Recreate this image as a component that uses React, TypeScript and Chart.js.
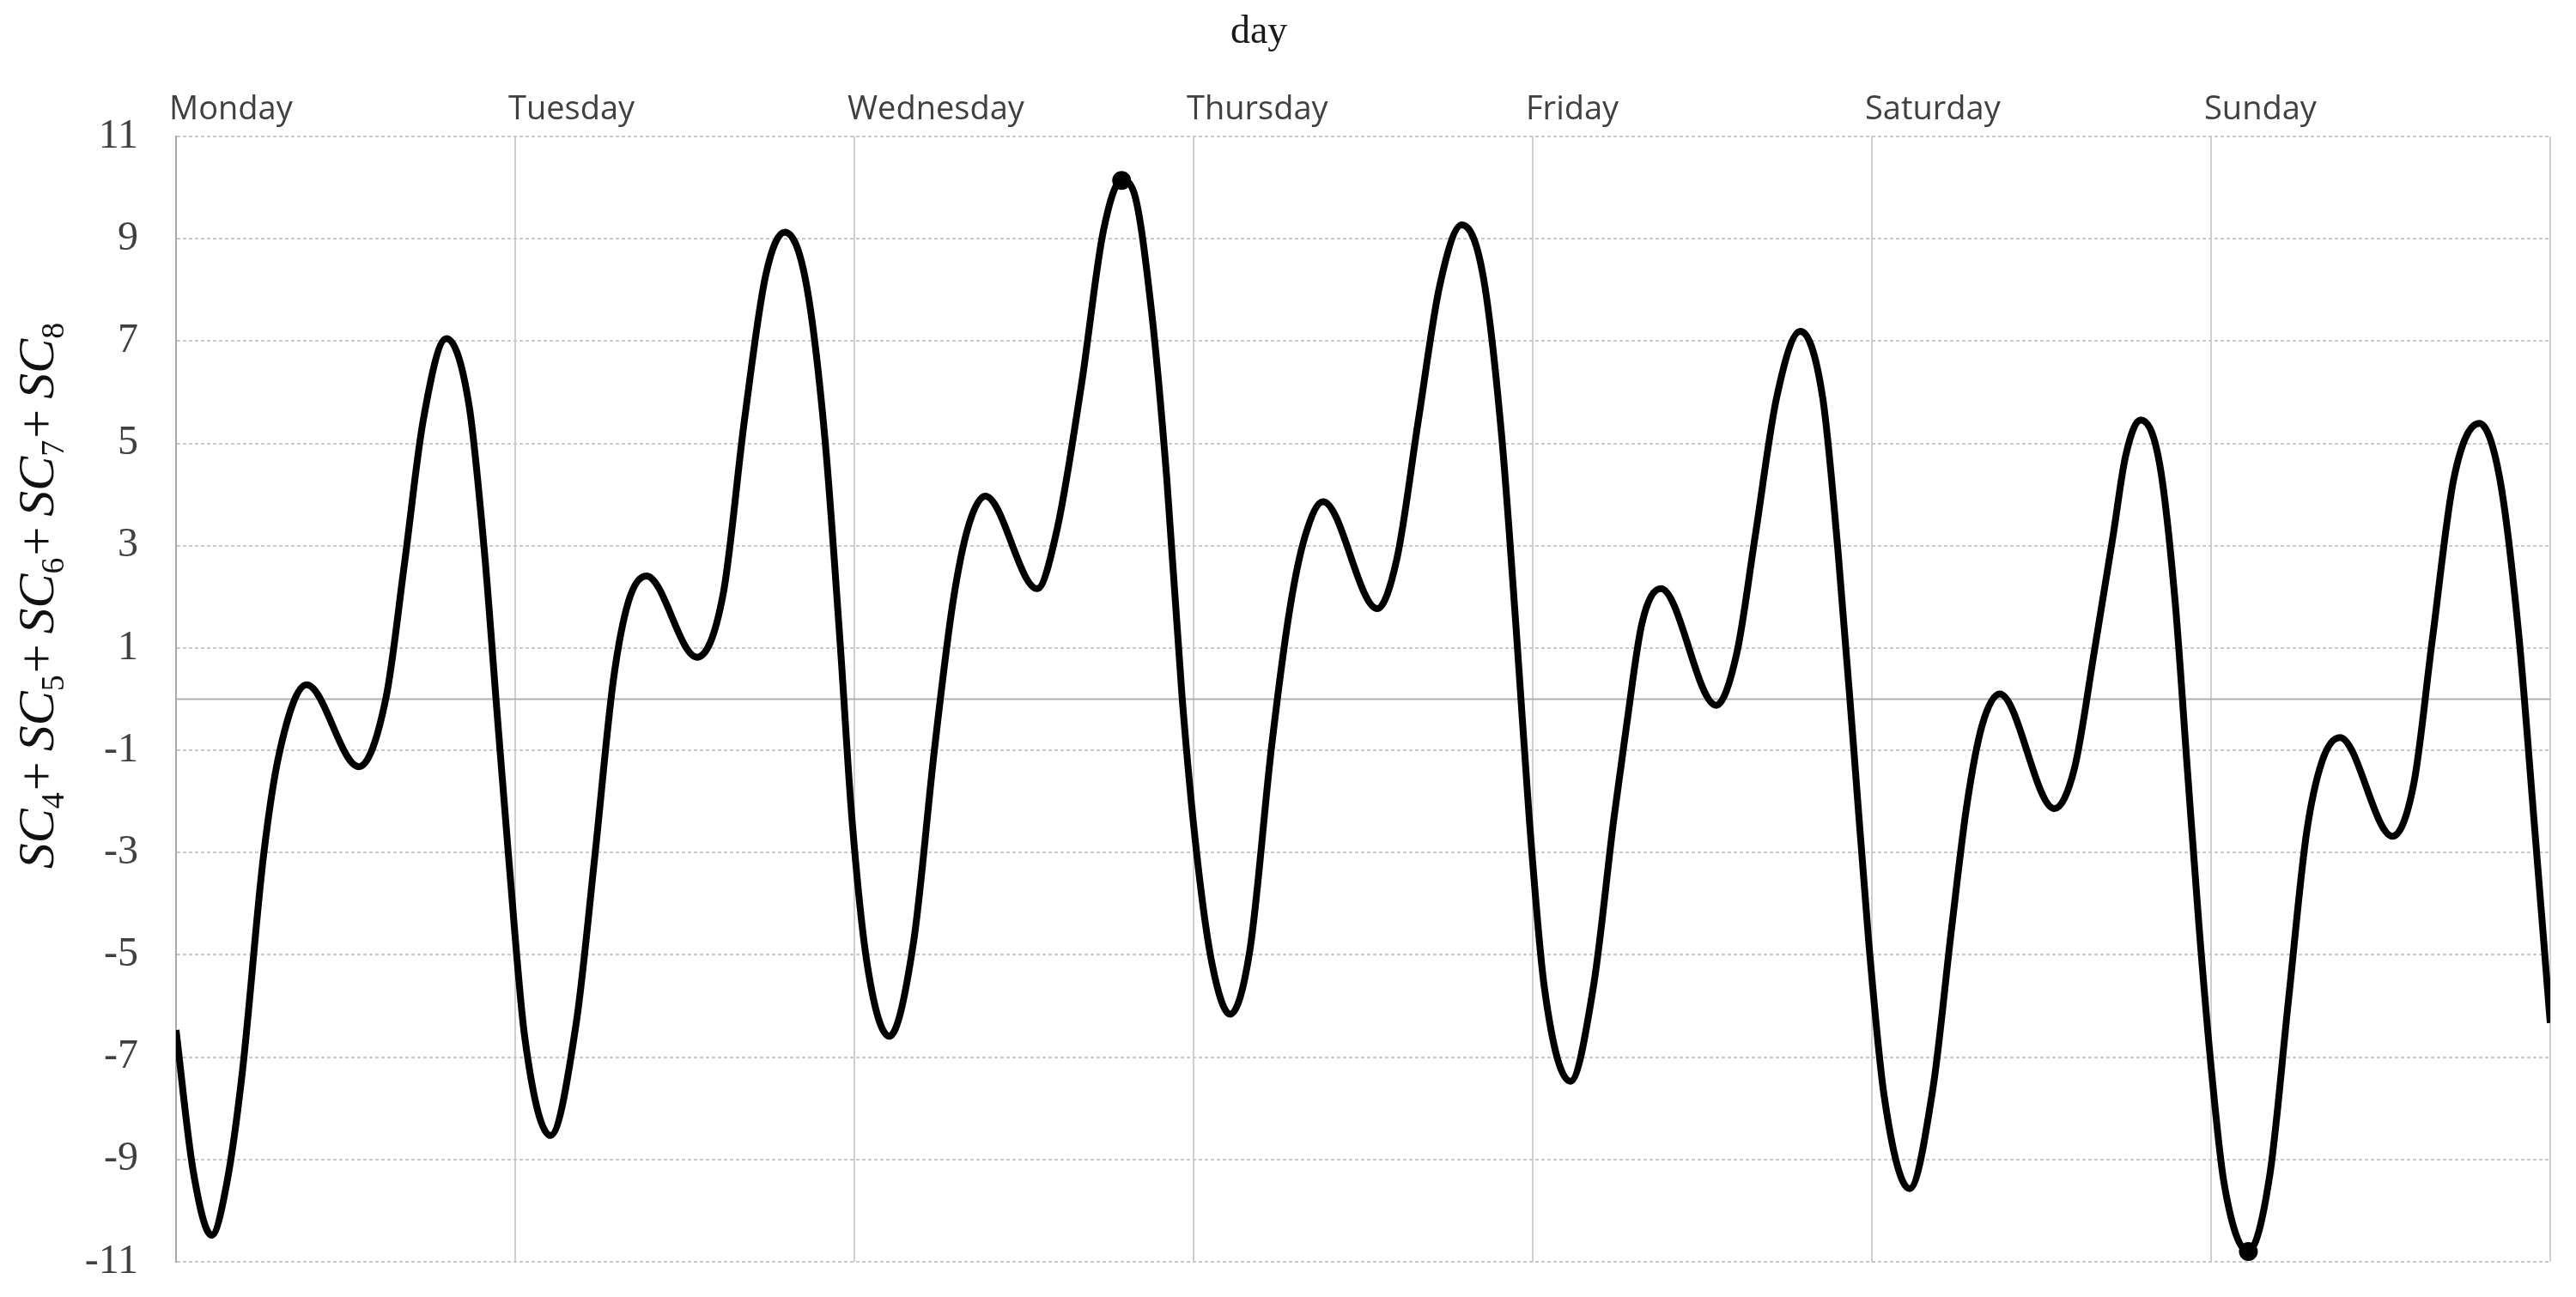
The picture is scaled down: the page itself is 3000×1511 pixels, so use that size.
import React, { useEffect, useRef } from "react";
import { Chart, registerables } from "chart.js";

Chart.register(...registerables);

// ---- data ----
const dayLabels = ["Monday", "Tuesday", "Wednesday", "Thursday", "Friday", "Saturday", "Sunday"];

const dayPositions = [
  0.0, 0.05, 0.105, 0.15, 0.195, 0.258, 0.304, 0.385, 0.539, 0.62, 0.673, 0.729, 0.797, 0.864, 0.909, 0.946, 0.982,
  1.028, 1.104, 1.18, 1.235, 1.289, 1.334, 1.387, 1.536, 1.613, 1.676, 1.739, 1.795, 1.857, 1.912, 1.957, 1.993,
  2.038, 2.103, 2.174, 2.237, 2.291, 2.337, 2.386, 2.539, 2.598, 2.67, 2.734, 2.788, 2.823, 2.876, 2.921, 2.966,
  3.01, 3.055, 3.108, 3.166, 3.23, 3.284, 3.329, 3.382, 3.542, 3.6, 3.663, 3.726, 3.791, 3.853, 3.908, 3.953, 3.99,
  4.034, 4.111, 4.179, 4.24, 4.277, 4.322, 4.378, 4.541, 4.602, 4.656, 4.719, 4.789, 4.855, 4.9, 4.946, 4.991,
  5.036, 5.111, 5.18, 5.235, 5.28, 5.325, 5.377, 5.538, 5.597, 5.655, 5.711, 5.748, 5.792, 5.848, 5.894, 5.93, 5.965,
  6.002, 6.038, 6.11, 6.173, 6.228, 6.281, 6.327, 6.38, 6.535, 6.598, 6.653, 6.716, 6.791, 6.851, 6.906, 6.952, 7.0,
];

const seriesValues = [
  -6.47, -9.2, -10.48, -9.45, -7.32, -3.06, -1.07, 0.28, -1.32, 0.06, 2.62, 5.46, 7.05, 5.74, 2.9, -0.22, -3.2,
  -6.6, -8.53, -6.33, -3.06, 0.35, 1.91, 2.41, 0.82, 2.05, 5.46, 8.3, 9.13, 8.16, 5.18, 1.2, -2.35,
  -5.19, -6.59, -4.77, -0.93, 1.91, 3.4, 3.97, 2.16, 3.33, 6.17, 9.15, 10.14, 9.93, 7.59, 4.32, 0.06,
  -3.06, -5.19, -6.16, -4.91, -0.93, 1.77, 3.19, 3.86, 1.77, 2.76, 5.46, 8.09, 9.27, 8.3, 5.18, 1.2, -2.35,
  -5.62, -7.47, -5.62, -2.3, -0.5, 1.48, 2.16, -0.12, 0.91, 3.19, 5.89, 7.19, 5.89, 2.9, -0.93, -4.77,
  -7.75, -9.57, -7.61, -4.48, -2.07, -0.51, 0.1, -2.14, -1.36, 0.9, 3.19, 4.75, 5.46, 4.61, 1.91, -1.36, -4.48,
  -7.32, -9.45, -10.8, -9.31, -5.9, -2.64, -1.22, -0.75, -2.68, -1.64, 1.2, 4.32, 5.39, 4.32, 1.34, -2.35, -6.33,
];

const yMin = -11;
const yMax = 11;
const yStep = 2;
const xTitle = "day";
const yTermLetters = "SC";
const yTermIndices = ["4", "5", "6", "7", "8"];

export default function App() {
  const ref = useRef<HTMLCanvasElement | null>(null);

  useEffect(() => {
    const canvas = ref.current;
    if (!canvas) return;

    const maxIdx = seriesValues.indexOf(Math.max(...seriesValues));
    const minIdx = seriesValues.indexOf(Math.min(...seriesValues));

    const zeroLine = {
      id: "zeroLine",
      beforeDatasetsDraw(chart: any) {
        const { ctx, chartArea } = chart;
        const y = chart.scales.y.getPixelForValue(0);
        ctx.save();
        ctx.strokeStyle = "#b0b0b0";
        ctx.lineWidth = 2;
        ctx.setLineDash([]);
        ctx.beginPath();
        ctx.moveTo(chartArea.left, y);
        ctx.lineTo(chartArea.right, y);
        ctx.stroke();
        ctx.restore();
      },
    };

    const titles = {
      id: "titles",
      afterDraw(chart: any) {
        const { ctx, chartArea } = chart;
        ctx.save();
        // top title
        ctx.fillStyle = "#1a1a1a";
        ctx.font = '46px "Liberation Serif"';
        ctx.textAlign = "center";
        ctx.textBaseline = "middle";
        ctx.fillText(xTitle, chart.width * 0.4887, 38);

        // y-axis title with subscripts
        const big = 60;
        const small = 38;
        const bigFont = `italic ${big}px "Liberation Serif"`;
        const plusFont = `${big}px "Liberation Serif"`;
        const subFont = `${small}px "Liberation Serif"`;
        const pieces: { t: string; f: string; dy: number; gap: number }[] = [];
        yTermIndices.forEach((d, i) => {
          pieces.push({ t: yTermLetters, f: bigFont, dy: 0, gap: 0 });
          pieces.push({ t: d, f: subFont, dy: 12, gap: 2 });
          if (i < yTermIndices.length - 1) pieces.push({ t: "+", f: plusFont, dy: 0, gap: 12 });
        });
        let total = 0;
        const widths = pieces.map((p) => {
          ctx.font = p.f;
          const w = ctx.measureText(p.t).width + p.gap;
          total += w;
          return w;
        });
        const cx = chartArea.left - 163;
        const cy = chartArea.top + 534;
        ctx.translate(cx, cy);
        ctx.rotate(-Math.PI / 2);
        ctx.textAlign = "left";
        ctx.textBaseline = "alphabetic";
        ctx.fillStyle = "#111";
        let x = -total / 2;
        pieces.forEach((p, i) => {
          ctx.font = p.f;
          ctx.fillText(p.t, x, 20 + p.dy);
          x += widths[i];
        });
        ctx.restore();
      },
    };

    const chart = new Chart(canvas, {
      type: "line",
      data: {
        datasets: [
          {
            data: dayPositions.map((x, i) => ({ x, y: seriesValues[i] })),
            borderColor: "#000",
            borderWidth: 8,
            cubicInterpolationMode: "monotone",
            fill: false,
            pointRadius: (c: any) => (c.dataIndex === maxIdx || c.dataIndex === minIdx ? 11 : 0),
            pointBackgroundColor: "#000",
            pointBorderWidth: 0,
            pointHoverRadius: 0,
          } as any,
        ],
      },
      options: {
        animation: false,
        responsive: false,
        devicePixelRatio: 1,
        layout: { padding: { left: 0, right: 30, top: 0, bottom: 41 } },
        plugins: { legend: { display: false }, tooltip: { enabled: false }, title: { display: false } },
        scales: {
          x: {
            type: "linear",
            position: "top",
            min: 0,
            max: 7,
            ticks: {
              stepSize: 1,
              autoSkip: false,
              maxRotation: 0,
              align: "start",
              labelOffset: -8,
              padding: 8,
              color: "#404040",
              font: { family: "Open Sans", size: 38 },
              callback: (v: any) => dayLabels[Number(v)] ?? "",
            },
            grid: { color: "#cfcfcf", lineWidth: 2, drawTicks: false },
            border: { display: false },
            afterFit: (s: any) => {
              s.height = 159;
              s.paddingLeft = 0;
              s.paddingRight = 0;
            },
          } as any,
          y: {
            type: "linear",
            min: yMin,
            max: yMax,
            ticks: {
              stepSize: yStep,
              padding: 44,
              color: "#404040",
              font: { family: "Liberation Serif", size: 48 },
            },
            grid: { color: "#c8c8c8", lineWidth: 2, drawTicks: false, borderDash: [4, 3] },
            border: { display: true, color: "#a8a8a8", width: 2, dash: [4, 3] },
            afterFit: (s: any) => {
              s.width = 205;
              s.paddingTop = 0;
              s.paddingBottom = 0;
            },
          } as any,
        },
      },
      plugins: [zeroLine, titles],
    });

    return () => chart.destroy();
  }, []);

  return (
    <div style={{ position: "absolute", left: 0, top: 0, width: 3000, height: 1511, background: "#fff" }}>
      <canvas ref={ref} width={3000} height={1511} style={{ display: "block" }} />
    </div>
  );
}
